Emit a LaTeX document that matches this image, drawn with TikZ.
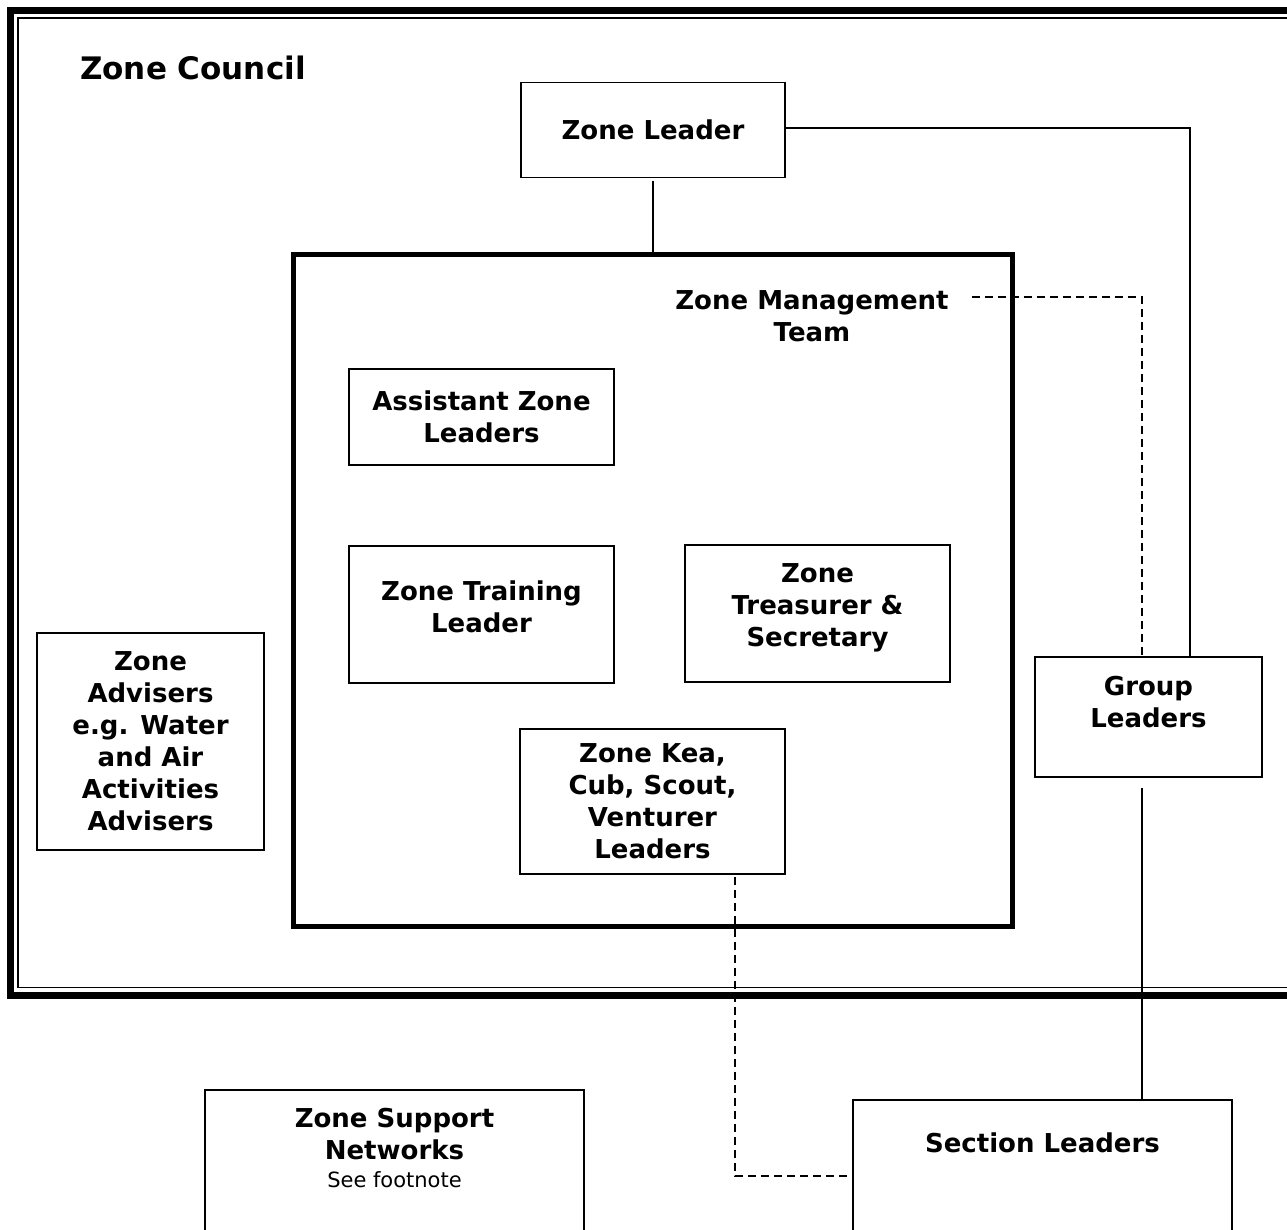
\documentclass[tikz,border=0pt]{standalone}
\usepackage{fontspec}
\setmainfont{DejaVu Sans}
\usetikzlibrary{calc}
\def\boxfont{\fontsize{26}{32}\selectfont\bfseries}

\begin{document}
\begin{tikzpicture}[x=1pt,y=-1pt,
		box/.style={draw, line width=1.8pt, inner sep=0pt, align=center, font=\boxfont},
		txt/.style={inner sep=0pt, align=center, font=\boxfont},
		solidline/.style={line width=1.8pt},
		dashline/.style={line width=1.8pt, dash pattern=on 8pt off 5pt}]
	\useasboundingbox (0,0) rectangle (1287,1230);
	\clip (0,0) rectangle (1287,1230);
	
	\draw[line width=7pt] (10.5,10.5) rectangle (1400,995.5);
	\draw[line width=1.5pt] (18,18) rectangle (1400,987.5);
	\node[anchor=west, inner sep=0pt, font=\fontsize{31}{36}\selectfont\bfseries] (council) at (80,68) {Zone Council};
	
	\node[box, minimum width=264pt, minimum height=95pt] (zl) at (653,130) {Zone Leader};
	
	\node[draw, line width=5pt, inner sep=0pt, minimum width=719pt, minimum height=671.5pt] (mgmt) at (653,590.25) {};
	\node[txt] (mgmtlbl) at (812,316) {Zone Management\\Team};
	
	\node[box, minimum width=265pt, minimum height=96pt] (asst) at (481.5,417) {Assistant Zone\\Leaders};
	\node[box, minimum width=265pt, minimum height=137pt, text depth=16pt] (train) at (481.5,614.5) {Zone Training\\Leader};
	\node[box, minimum width=265pt, minimum height=137pt, text depth=16pt] (treas) at (817.5,613.5) {Zone\\Treasurer \&\\Secretary};
	\node[box, minimum width=265pt, minimum height=145pt] (kea) at (652.5,801.5) {Zone Kea,\\Cub, Scout,\\Venturer\\Leaders};
	\node[box, minimum width=227pt, minimum height=217pt] (adv) at (150.5,741.5) {Zone\\Advisers\\e.g. Water\\and Air\\Activities\\Advisers};
	
	\node[box, minimum width=227pt, minimum height=120pt] (grp) at (1148.5,717) {};
	\node[txt] (grplbl) at (1148.5,702) {Group\\Leaders};
	
	\node[box, minimum width=379pt, minimum height=152pt, anchor=north] (sect) at (1042.5,1099) {};
	\node[txt] (sectlbl) at (1042.5,1143) {Section Leaders};
	
	\node[box, minimum width=379pt, minimum height=200pt, anchor=north] (supp) at (394.5,1089) {};
	\node[txt] (supplbl) at (394.5,1134) {Zone Support\\Networks};
	\node[inner sep=0pt, font=\fontsize{21}{25}\selectfont] (foot) at (394.5,1180) {See footnote};
	
	\coordinate (grpl) at ([xshift=-6.5pt]grp.north);
	\coordinate (grpr) at ([xshift=41.5pt]grp.north);
	
	\draw[solidline] ($(zl.south)+(0,3)$) -- (mgmt.north);
	\draw[solidline] ([yshift=2pt]zl.east) -| (grpr);
	\draw[dashline] ([xshift=23pt,yshift=19pt]mgmtlbl.east) -| (grpl);
	\draw[solidline] ($(grpl |- grp.south)+(0,10)$) -- (grpl |- sect.north);
	\draw[dashline] ($(kea.south)+(82.5,2)$) |- (sect.west);
\end{tikzpicture}
\end{document}
